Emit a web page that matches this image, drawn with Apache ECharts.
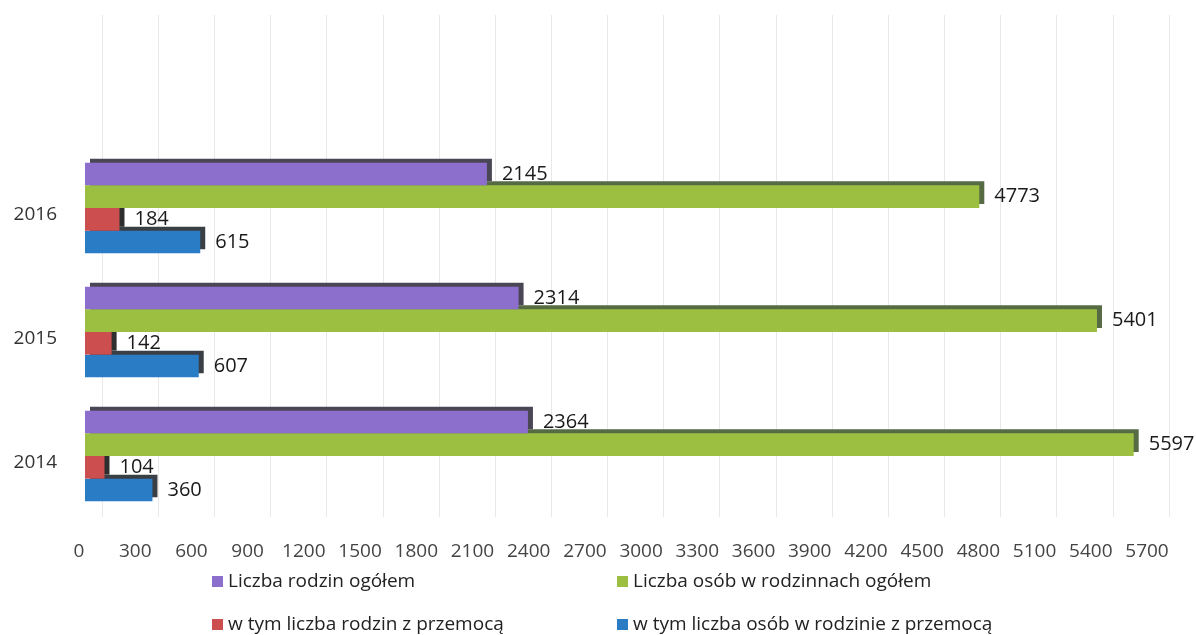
<!DOCTYPE html>
<html>
<head>
<meta charset="utf-8">
<script src="https://cdn.jsdelivr.net/npm/echarts@6/dist/echarts.min.js"></script>
<style>
html,body{margin:0;padding:0;background:#fff;}
#chart{width:1196px;height:635px;}
</style>
</head>
<body>
<div id="chart"></div>
<script>
var years = ['2014', '2015', '2016'];
var seriesNames = [
  'Liczba rodzin ogółem',
  'Liczba osób w rodzinnach ogółem',
  'w tym liczba rodzin z przemocą',
  'w tym liczba osób w rodzinie z przemocą'
];
var rodzinOgolem = [2364, 2314, 2145];
var osobOgolem = [5597, 5401, 4773];
var rodzinPrzemoc = [104, 142, 184];
var osobPrzemoc = [360, 607, 615];
var xTicks = {min: 0, max: 5700, interval: 300};

var FONT = 'Open Sans';
var colors = ['#8c6fcc', '#9cbf42', '#cc4e4e', '#2a7cc4'];
var sideColors = ['#4a4656', '#566b44', '#2e2e2e', '#3a3f46'];

function barSeries(idx, data) {
  return {
    name: seriesNames[idx],
    type: 'bar',
    xAxisIndex: 0,
    yAxisIndex: 0,
    z: 10 - idx,
    data: data,
    barGap: '0%',
    barCategoryGap: '27%',
    itemStyle: {
      color: colors[idx],
      shadowColor: sideColors[idx],
      shadowBlur: 0,
      shadowOffsetX: 5,
      shadowOffsetY: -4
    },
    label: {
      show: true,
      position: 'right',
      distance: 15,
      fontFamily: FONT,
      fontSize: 20,
      color: '#1a1a1a'
    }
  };
}

function legendAt(idx, left, top) {
  return {
    data: [seriesNames[idx]],
    left: left,
    top: top,
    padding: 0,
    itemWidth: 11,
    itemHeight: 11,
    itemGap: 6,
    icon: 'rect',
    textStyle: {fontFamily: FONT, fontSize: 19, color: '#222'}
  };
}

var chart = echarts.init(document.getElementById('chart'), null, {renderer: 'canvas'});
chart.setOption({
  animation: false,
  backgroundColor: '#ffffff',
  color: colors,
  grid: [
    {left: 85, right: 43, top: 146, bottom: 117},
    {left: 102, right: 27, top: 15, bottom: 118}
  ],
  xAxis: [
    {
      type: 'value', gridIndex: 0,
      min: xTicks.min, max: xTicks.max, interval: xTicks.interval,
      axisLine: {show: false}, axisTick: {show: false},
      splitLine: {show: false},
      axisLabel: {
        fontFamily: FONT, fontSize: 19, color: '#444', margin: 24,
        padding: [0, 12, 0, 0],
        formatter: function (v) { return String(v); }
      }
    },
    {
      type: 'value', gridIndex: 1,
      min: xTicks.min, max: xTicks.max, interval: xTicks.interval,
      axisLine: {show: false}, axisTick: {show: false},
      axisLabel: {show: false},
      splitLine: {show: true, lineStyle: {color: '#e8e8e8', width: 1}}
    }
  ],
  yAxis: [
    {
      type: 'category', gridIndex: 0, data: years,
      axisLine: {show: false}, axisTick: {show: false},
      axisLabel: {fontFamily: FONT, fontSize: 19, color: '#333', margin: 28, verticalAlign: 'top', lineHeight: 14}
    },
    {
      type: 'value', gridIndex: 1, show: false
    }
  ],
  legend: [
    legendAt(0, 212, 572),
    legendAt(1, 617, 572),
    legendAt(2, 212, 615),
    legendAt(3, 617, 615)
  ],
  series: [
    barSeries(0, rodzinOgolem),
    barSeries(1, osobOgolem),
    barSeries(2, rodzinPrzemoc),
    barSeries(3, osobPrzemoc)
  ]
});
</script>
</body>
</html>
